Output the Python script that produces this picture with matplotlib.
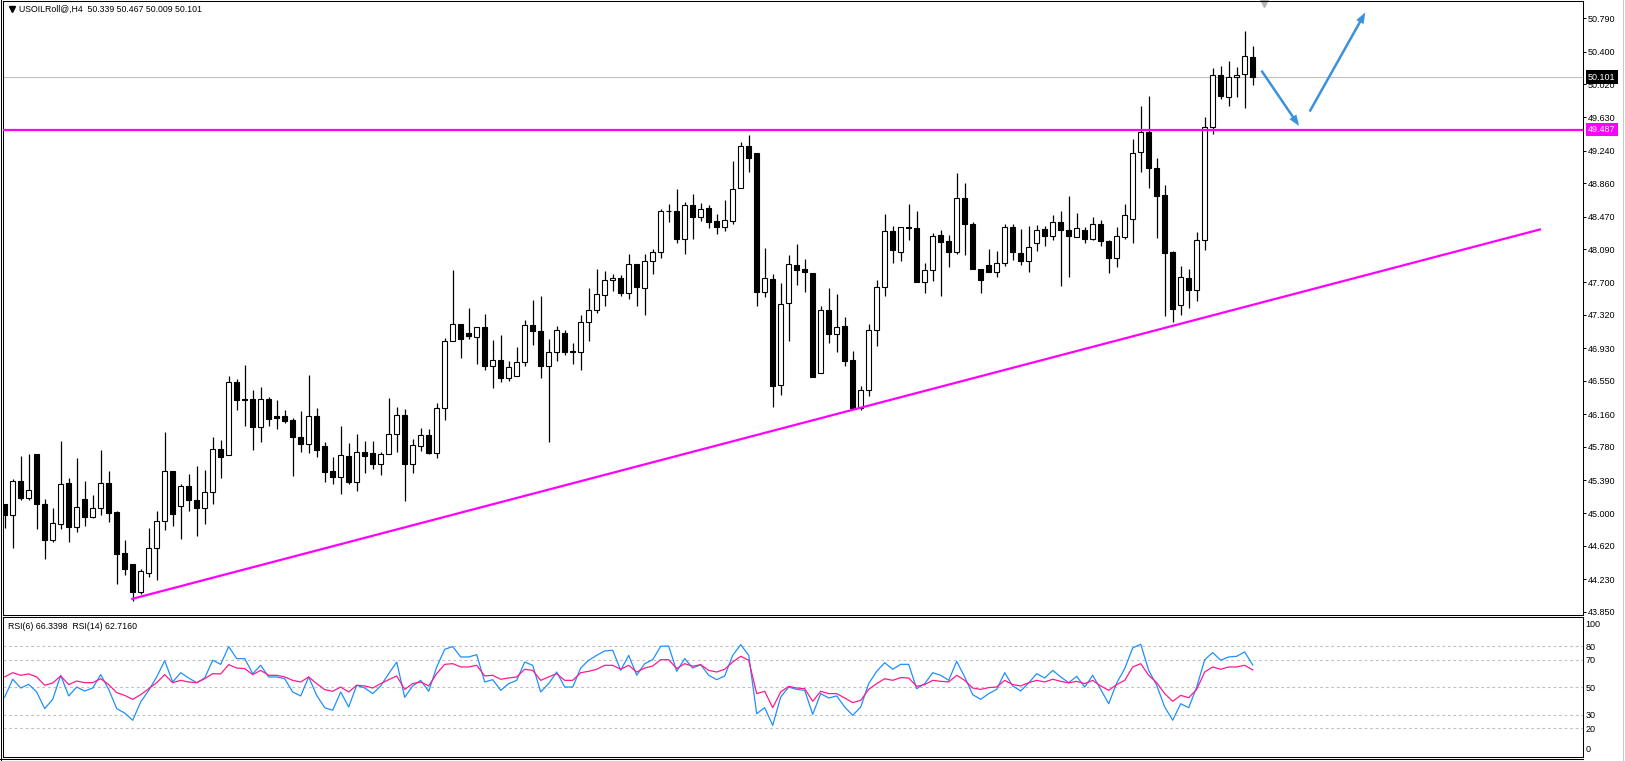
import numpy as np
import matplotlib
matplotlib.use("Agg")
import matplotlib.pyplot as plt
from matplotlib.lines import Line2D
from matplotlib.patches import FancyArrowPatch
from matplotlib.transforms import blended_transform_factory

plt.rcParams['font.family'] = ['Liberation Sans', 'DejaVu Sans']

# USOILRoll@ H4 candles
opens = [45.105, 44.976, 45.374, 45.183, 45.691, 45.105, 44.683, 44.870, 45.351, 44.843,
         45.163, 44.960, 45.058, 45.351, 45.015, 44.531, 44.402, 44.081, 44.304, 44.589,
         44.906, 45.492, 45.081, 45.316, 45.152, 45.066, 45.245, 45.749, 45.687, 46.538,
         46.335, 46.335, 46.015, 46.335, 46.136, 46.136, 46.089, 45.894, 45.816, 46.136,
         45.788, 45.495, 45.429, 45.671, 45.370, 45.718, 45.702, 45.581, 45.690, 45.926,
         46.149, 45.573, 45.786, 45.915, 45.700, 46.231, 47.016, 47.216, 47.110, 47.059,
         47.180, 46.719, 46.794, 46.579, 46.606, 46.766, 47.204, 47.134, 46.719, 46.883,
         47.110, 46.887, 46.883, 47.235, 47.380, 47.555, 47.731, 47.755, 47.575, 47.918,
         47.637, 47.954, 48.059, 48.532, 48.540, 48.208, 48.610, 48.465, 48.575, 48.415,
         48.348, 48.422, 48.809, 49.301, 49.219, 47.586, 47.742, 46.500, 47.457, 47.910,
         47.860, 47.813, 46.637, 47.379, 47.098, 47.192, 46.793, 46.231, 46.442, 47.145,
         47.645, 48.297, 48.055, 48.352, 48.340, 47.711, 47.848, 48.258, 48.181, 48.056,
         48.693, 48.380, 47.861, 47.908, 47.822, 47.927, 48.349, 48.048, 47.951, 48.158,
         48.330, 48.244, 48.412, 48.318, 48.232, 48.310, 48.205, 48.388, 48.181, 47.986,
         48.232, 48.447, 49.228, 49.455, 49.041, 48.720, 48.052, 47.439, 47.755, 47.615,
         48.201, 49.521, 50.123, 49.865, 50.099, 50.134, 50.339]
highs = [45.110, 45.398, 45.671, 45.691, 45.691, 45.163, 45.058, 45.847, 45.413, 45.648,
         45.378, 45.214, 45.741, 45.495, 45.027, 44.687, 44.402, 44.351, 44.831, 45.027,
         45.952, 45.492, 45.339, 45.456, 45.554, 45.507, 45.894, 45.859, 46.609, 46.570,
         46.738, 46.441, 46.480, 46.355, 46.327, 46.206, 46.120, 46.198, 46.620, 46.230,
         45.837, 45.661, 46.024, 45.825, 45.930, 45.848, 45.848, 45.720, 46.352, 46.247,
         46.219, 45.866, 46.000, 45.989, 46.294, 47.055, 47.841, 47.216, 47.407, 47.180,
         47.333, 47.032, 47.091, 46.786, 46.950, 47.262, 47.501, 47.544, 47.040, 47.196,
         47.145, 46.997, 47.321, 47.637, 47.860, 47.829, 47.794, 47.782, 48.036, 47.918,
         48.036, 48.094, 48.563, 48.614, 48.789, 48.641, 48.731, 48.633, 48.602, 48.504,
         48.660, 49.117, 49.344, 49.422, 49.219, 48.106, 47.801, 47.696, 48.016, 48.145,
         47.969, 47.813, 47.430, 47.637, 47.567, 47.293, 46.903, 46.493, 47.215, 47.731,
         48.504, 48.364, 48.352, 48.622, 48.532, 47.930, 48.278, 48.309, 48.251, 48.986,
         48.869, 48.408, 47.861, 48.095, 48.064, 48.388, 48.388, 48.329, 48.357, 48.376,
         48.357, 48.486, 48.533, 48.709, 48.513, 48.349, 48.466, 48.427, 48.193, 48.349,
         48.615, 49.376, 49.763, 49.880, 49.158, 48.837, 48.064, 47.888, 47.853, 48.291,
         49.630, 50.205, 50.232, 50.290, 50.224, 50.642, 50.467]
lows = [44.830, 44.597, 45.156, 45.152, 44.820, 44.468, 44.667, 44.820, 44.667, 44.784,
        44.855, 44.941, 44.984, 44.902, 44.175, 44.284, 43.980, 44.058, 44.257, 44.226,
        44.804, 44.851, 44.702, 45.027, 44.737, 44.878, 45.105, 45.417, 45.679, 46.210,
        46.023, 45.738, 45.839, 46.023, 45.992, 46.058, 45.437, 45.722, 45.710, 45.663,
        45.366, 45.339, 45.229, 45.347, 45.261, 45.476, 45.522, 45.444, 45.690, 45.723,
        45.143, 45.468, 45.730, 45.690, 45.653, 46.091, 47.016, 46.813, 47.036, 46.743,
        46.680, 46.462, 46.532, 46.552, 46.606, 46.719, 46.973, 46.579, 45.840, 46.786,
        46.852, 46.743, 46.680, 47.020, 47.340, 47.423, 47.606, 47.547, 47.505, 47.422,
        47.321, 47.801, 47.989, 48.407, 48.161, 48.036, 48.208, 48.418, 48.340, 48.270,
        48.301, 48.383, 48.809, 48.993, 47.422, 47.528, 46.239, 46.387, 47.020, 47.665,
        47.586, 46.590, 46.637, 46.996, 46.883, 46.719, 46.231, 46.207, 46.376, 46.954,
        47.540, 47.926, 47.950, 48.192, 47.703, 47.575, 47.723, 47.540, 47.880, 48.029,
        48.017, 47.861, 47.576, 47.822, 47.763, 47.888, 47.966, 47.900, 47.822, 48.064,
        48.122, 48.193, 47.654, 47.763, 48.232, 48.162, 48.193, 48.123, 47.810, 47.880,
        48.205, 48.162, 48.994, 48.806, 48.220, 47.306, 47.236, 47.322, 47.404, 47.482,
        48.084, 49.431, 49.845, 49.767, 49.873, 49.736, 50.009]
closes = [44.976, 45.374, 45.183, 45.269, 45.105, 44.691, 44.882, 45.339, 44.843, 45.070,
          44.960, 45.058, 45.351, 45.007, 44.527, 44.351, 44.081, 44.324, 44.589, 44.906,
          45.492, 44.995, 45.316, 45.152, 45.066, 45.245, 45.749, 45.663, 46.538, 46.323,
          46.323, 46.015, 46.335, 46.109, 46.120, 46.081, 45.898, 45.816, 46.136, 45.738,
          45.487, 45.429, 45.683, 45.366, 45.718, 45.671, 45.581, 45.690, 45.926, 46.149,
          45.573, 45.796, 45.915, 45.700, 46.231, 47.016, 47.216, 47.036, 47.071, 47.180,
          46.719, 46.794, 46.579, 46.708, 46.766, 47.204, 47.134, 46.719, 46.883, 47.145,
          46.883, 46.887, 47.235, 47.380, 47.563, 47.731, 47.755, 47.575, 47.919, 47.645,
          47.954, 48.059, 48.532, 48.540, 48.208, 48.610, 48.465, 48.563, 48.407, 48.348,
          48.434, 48.797, 49.301, 49.161, 47.586, 47.754, 46.493, 47.450, 47.918, 47.848,
          47.820, 46.598, 47.379, 47.098, 47.176, 46.778, 46.231, 46.442, 47.145, 47.645,
          48.297, 48.079, 48.352, 48.340, 47.711, 47.848, 48.239, 48.172, 48.056, 48.693,
          48.380, 47.861, 47.732, 47.822, 47.931, 48.349, 48.056, 47.951, 48.115, 48.318,
          48.244, 48.412, 48.318, 48.244, 48.341, 48.212, 48.388, 48.185, 47.986, 48.240,
          48.494, 49.220, 49.455, 49.041, 48.712, 48.044, 47.388, 47.763, 47.615, 48.201,
          49.513, 50.123, 49.884, 50.099, 50.123, 50.349, 50.101]

rsi6 = [42.9, 55.9, 49.5, 52.2, 46.6, 34.4, 41.2, 58.8, 43.7, 50.2,
        47.3, 49.5, 59.3, 48.5, 34.4, 31.2, 25.9, 39.3, 47.8, 57.6,
        69.5, 53.9, 60.7, 56.8, 53.4, 56.8, 69.8, 66.8, 79.8, 71.0,
        71.0, 60.0, 66.1, 57.6, 57.6, 56.3, 46.6, 43.7, 57.6, 44.1,
        35.1, 33.2, 46.6, 35.6, 51.5, 49.5, 45.4, 51.0, 60.0, 68.5,
        42.7, 51.0, 55.1, 47.1, 64.9, 77.8, 79.8, 72.2, 72.2, 73.9,
        53.9, 55.6, 47.8, 52.7, 55.1, 68.5, 66.1, 46.6, 52.7, 61.2,
        50.2, 50.2, 64.1, 69.8, 73.4, 76.6, 77.1, 62.4, 73.4, 58.8,
        67.3, 70.2, 80.0, 80.2, 61.7, 71.0, 64.1, 66.6, 58.8, 55.6,
        58.3, 73.4, 81.2, 73.4, 30.7, 35.1, 22.2, 42.9, 50.2, 48.5,
        47.8, 30.2, 45.4, 42.2, 43.7, 35.6, 29.5, 35.6, 52.7, 61.7,
        68.0, 63.2, 66.8, 66.8, 49.0, 52.7, 60.7, 58.8, 55.1, 69.0,
        57.6, 44.6, 41.2, 45.4, 48.5, 60.7, 51.0, 47.3, 53.2, 60.0,
        56.8, 62.4, 57.6, 53.4, 58.0, 50.2, 58.8, 48.5, 38.0, 53.2,
        63.7, 78.8, 81.5, 62.4, 51.5, 35.6, 25.9, 38.0, 35.1, 50.2,
        70.2, 75.4, 69.8, 72.2, 72.7, 75.9, 66.34]
rsi14 = [57.6, 60.7, 58.8, 59.8, 57.6, 51.5, 53.2, 58.3, 52.0, 54.6,
         53.4, 53.4, 56.3, 52.0, 46.1, 44.1, 41.2, 44.6, 49.0, 53.4,
         59.3, 53.4, 55.1, 53.9, 53.4, 56.3, 60.0, 59.8, 66.6, 64.1,
         63.7, 59.3, 62.4, 58.8, 58.8, 57.6, 55.1, 53.9, 57.6, 52.7,
         48.3, 47.1, 50.2, 46.6, 51.5, 51.0, 49.5, 52.7, 55.6, 58.3,
         48.5, 52.7, 53.9, 51.0, 60.0, 66.8, 67.3, 64.9, 64.9, 66.1,
         58.3, 58.8, 55.9, 56.8, 57.6, 63.2, 62.4, 55.1, 57.6, 60.0,
         55.1, 55.1, 60.7, 61.7, 63.2, 66.1, 66.1, 63.2, 66.1, 61.2,
         64.1, 65.6, 70.2, 70.2, 63.7, 67.3, 65.4, 66.6, 62.4, 61.2,
         63.2, 68.5, 72.7, 69.8, 45.4, 47.1, 35.1, 46.6, 50.7, 49.5,
         49.0, 39.8, 47.1, 45.4, 45.4, 42.2, 38.8, 40.5, 48.5, 52.7,
         56.3, 55.1, 57.1, 56.8, 50.7, 52.0, 55.1, 54.4, 53.9, 58.8,
         55.1, 49.5, 48.5, 49.8, 50.2, 55.1, 52.0, 51.0, 53.4, 55.1,
         53.9, 55.9, 54.4, 53.2, 54.4, 52.7, 55.1, 51.0, 47.8, 52.0,
         55.1, 64.9, 67.3, 58.8, 53.4, 45.4, 39.8, 44.1, 42.4, 48.5,
         61.2, 64.9, 63.2, 64.9, 64.9, 66.1, 62.716]

price_ticks = [50.790, 50.400, 50.020, 49.630, 49.240, 48.860, 48.470, 48.090, 47.700,
               47.320, 46.930, 46.550, 46.160, 45.780, 45.390, 45.000, 44.620, 44.230, 43.850]
rsi_levels = [80, 70, 50, 30, 20]
resistance = 49.487
last_price = 50.101
# trend line drawn on the chart (bar index, price)
trend_x = [15.95, 191.9]
trend_y = [44.00, 48.32]
# the two hand-drawn blue arrows (bar index, price)
arrow_down = [(156.9, 50.205), (162.0, 49.503)]
arrow_up = [(162.95, 49.671), (170.25, 50.887)]

W, H = 1625, 761


def px_box(left, top, right, bottom):
    return [left / W, 1 - bottom / H, (right - left) / W, (bottom - top) / H]


fig = plt.figure(figsize=(W / 100, H / 100), dpi=100)
fig.patch.set_facecolor('white')
ax = fig.add_axes(px_box(3.2, 0.5, 1582.7, 614.5))
ax2 = fig.add_axes(px_box(3.2, 616.5, 1582.7, 756.5))

xlim = (-0.1875, 197.25)
n = len(opens)
x = np.arange(n)
o = np.array(opens)
c = np.array(closes)
up = c >= o

# candles
ax.vlines(x, lows, highs, color='black', lw=0.9, zorder=2)
body_low = np.minimum(o, c)
body_h = np.maximum(np.abs(c - o), 0.006)
ax.bar(x, body_h, bottom=body_low, width=0.6,
       color=np.where(up, 'white', 'black'), edgecolor='black', linewidth=0.8, zorder=3)

ax.axhline(last_price, color='#c0c0c0', lw=0.8, zorder=1)
ax.axhline(resistance, color='#ff00ff', lw=1.6, zorder=4)
ax.plot(trend_x, trend_y, color='#ff00ff', lw=1.6, zorder=4)

for (p0, p1) in [arrow_down, arrow_up]:
    arr = FancyArrowPatch(p0, p1, arrowstyle='simple,head_length=8,head_width=6,tail_width=1.8',
                          mutation_scale=1, color='#3a92de', lw=0, zorder=5)
    ax.add_patch(arr)

ax.set_xlim(*xlim)
ax.set_ylim(43.817, 50.998)
ax.set_xticks([])
ax.yaxis.tick_right()
ax.set_yticks(price_ticks)
ax.set_yticklabels(['{:.3f}'.format(t) for t in price_ticks])
ax.tick_params(axis='y', direction='out', length=2.2, width=0.7, pad=1.6, labelsize=6.5)
for s in ax.spines.values():
    s.set_linewidth(0.75)

tr = blended_transform_factory(ax.transAxes, ax.transData)
ax.text(1.0034, last_price, '{:.3f}'.format(last_price), transform=tr, ha='left', va='center',
        color='white', fontsize=6.5, zorder=10, clip_on=False,
        bbox=dict(boxstyle='square,pad=0.25', fc='black', ec='none'))
ax.text(1.0034, resistance, '{:.3f}'.format(resistance), transform=tr, ha='left', va='center',
        color='white', fontsize=6.5, zorder=10, clip_on=False,
        bbox=dict(boxstyle='square,pad=0.25', fc='#ff00ff', ec='none'))

# title and little markers
ax.plot([0.0053], [0.986], marker='v', color='black', ms=4.2, transform=ax.transAxes, clip_on=False)
ax.text(0.0101, 0.986, 'USOILRoll@,H4  50.339 50.467 50.009 50.101', transform=ax.transAxes,
        ha='left', va='center', fontsize=6.3)
ax.plot([157.4], [0.997], marker='v', color='#b4b4b4', ms=6.5,
        transform=blended_transform_factory(ax.transData, ax.transAxes), clip_on=False)

# RSI panel
for lv in rsi_levels:
    ax2.axhline(lv, color='#c0c0c0', lw=0.8, ls=(0, (2.5, 2.5)), zorder=1)
ax2.plot(x, rsi6, color='#1e90ff', lw=0.9, zorder=3)
ax2.plot(x, rsi14, color='#ff1a8c', lw=0.9, zorder=3)
ax2.set_xlim(*xlim)
ax2.set_ylim(-0.6, 101.8)
ax2.set_xticks([])
ax2.yaxis.tick_right()
ax2.set_yticks(rsi_levels)
ax2.set_yticklabels([str(v) for v in rsi_levels])
ax2.tick_params(axis='y', length=0, pad=2.2, labelsize=6.5)
for s in ax2.spines.values():
    s.set_linewidth(0.75)
tr2 = blended_transform_factory(ax2.transAxes, ax2.transData)
ax2.text(1.0019, 96.3, '100', transform=tr2, ha='left', va='center', fontsize=6.5, clip_on=False)
ax2.text(1.0019, 4.6, '0', transform=tr2, ha='left', va='center', fontsize=6.5, clip_on=False)
ax2.text(0.003, 0.927, 'RSI(6) 66.3398  RSI(14) 62.7160', transform=ax2.transAxes,
         ha='left', va='center', fontsize=6.3)

# window frame lines
fig.add_artist(Line2D([0.5 / W, 0.5 / W], [0, 1], color='black', lw=0.75))
fig.add_artist(Line2D([0, 1582.7 / W], [1 - 758.5 / H, 1 - 758.5 / H], color='black', lw=0.75))
fig.add_artist(Line2D([1622.7 / W, 1622.7 / W], [0, 1], color='#c8c8c8', lw=0.75))

fig.savefig('out.png', dpi=100, facecolor='white')
